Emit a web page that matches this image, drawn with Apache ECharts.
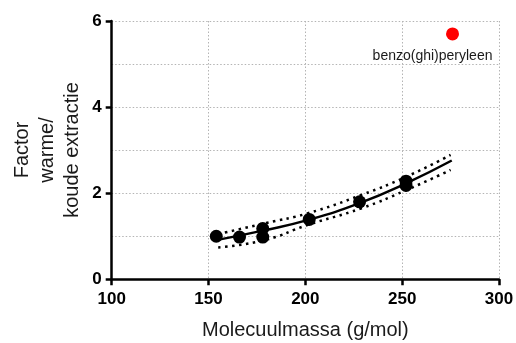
<!DOCTYPE html>
<html>
<head>
<meta charset="utf-8">
<style>
  html, body { margin: 0; padding: 0; background: #fff; }
  #chart { width: 516px; height: 343px; }
</style>
<script src="https://cdn.jsdelivr.net/npm/echarts@6/dist/echarts.min.js"></script>
</head>
<body>
<div id="chart"></div>
<script>
// Measured compounds: molecular mass (g/mol) vs warm/cold extraction factor
const measuredMass   = [154, 166, 178, 178, 202, 228, 252, 252];
const measuredFactor = [1.0, 0.98, 1.18, 0.98, 1.39, 1.80, 2.28, 2.18];

// Outlier, labelled separately
const outlierName   = 'benzo(ghi)peryleen';
const outlierMass   = 276;
const outlierFactor = 5.7;

// Fitted curve and its confidence band
const fitMass    = [154, 178, 201.5, 228, 252, 275.6];
const fitFactor  = [0.91, 1.13, 1.38, 1.77, 2.23, 2.76];
const bandMass   = [155, 179, 201, 229, 252, 275];
const bandUpper  = [1.05, 1.30, 1.53, 1.96, 2.38, 2.89];
const bandLower  = [0.74, 0.91, 1.26, 1.65, 2.07, 2.54];

const xTicks = [100, 150, 200, 250, 300];
const yTicks = [0, 2, 4, 6];

const zip = (a, b) => a.map((v, i) => [v, b[i]]);

const FONT = '"Liberation Sans", Arial, Helvetica, sans-serif';
const chart = echarts.init(document.getElementById('chart'), null, { renderer: 'canvas' });

const gridLine = { show: true, lineStyle: { color: '#b4b4b4', width: 1, type: [1.5, 2] } };
const bandStyle = { color: '#000', width: 2.5, type: [2.5, 4.5], cap: 'butt', opacity: 1 };

chart.setOption({
  animation: false,
  backgroundColor: '#ffffff',
  grid: {
    left: 111.7, right: 17, top: 21, bottom: 63.7,
    containLabel: false, outerBoundsMode: 'none'
  },
  xAxis: {
    type: 'value',
    min: xTicks[0], max: xTicks[xTicks.length - 1], interval: 50,
    name: 'Molecuulmassa (g/mol)',
    nameLocation: 'middle',
    nameGap: 41,
    nameTextStyle: { fontFamily: FONT, fontSize: 20, color: '#1a1a1a' },
    axisLine: { show: true, onZero: false, lineStyle: { color: '#000', width: 2.5 } },
    axisTick: { show: true, length: 6, inside: false, lineStyle: { color: '#000', width: 2.5 } },
    axisLabel: { fontFamily: FONT, fontSize: 17, fontWeight: 'bold', color: '#000', margin: 12 },
    splitLine: gridLine
  },
  yAxis: {
    type: 'value',
    min: yTicks[0], max: yTicks[yTicks.length - 1], interval: 2,
    axisLine: { show: true, onZero: false, lineStyle: { color: '#000', width: 2.5 } },
    axisTick: { show: true, length: 6, lineStyle: { color: '#000', width: 2.5 } },
    axisLabel: { fontFamily: FONT, fontSize: 17, fontWeight: 'bold', color: '#000', margin: 10 },
    splitLine: gridLine,
    minorTick: { show: false, splitNumber: 2 },
    minorSplitLine: gridLine
  },
  graphic: [{
    type: 'text',
    x: 47, y: 150,
    rotation: Math.PI / 2,
    style: {
      text: 'Factor\nwarme/\nkoude extractie',
      font: '20px ' + FONT,
      fill: '#1a1a1a',
      textAlign: 'center',
      textVerticalAlign: 'middle',
      lineHeight: 25
    }
  }],
  series: [
    {
      type: 'line', data: zip(bandMass, bandUpper), smooth: true, symbol: 'none', z: 2,
      lineStyle: bandStyle
    },
    {
      type: 'line', data: zip(bandMass, bandLower), smooth: true, symbol: 'none', z: 2,
      lineStyle: bandStyle
    },
    {
      type: 'line', data: zip(fitMass, fitFactor), smooth: true, symbol: 'none', z: 3,
      lineStyle: { color: '#000', width: 2.5 }
    },
    {
      type: 'scatter', data: zip(measuredMass, measuredFactor), symbol: 'circle', symbolSize: 13, z: 4,
      itemStyle: { color: '#000', opacity: 1 }
    },
    {
      type: 'scatter', data: [[outlierMass, outlierFactor]], symbol: 'circle', symbolSize: 13, z: 4,
      itemStyle: { color: '#ff0000', opacity: 1 },
      label: {
        show: true, position: 'bottom', distance: 5, offset: [-20, 4],
        formatter: outlierName,
        fontFamily: FONT, fontSize: 14, color: '#1a1a1a'
      }
    }
  ]
});
</script>
</body>
</html>
